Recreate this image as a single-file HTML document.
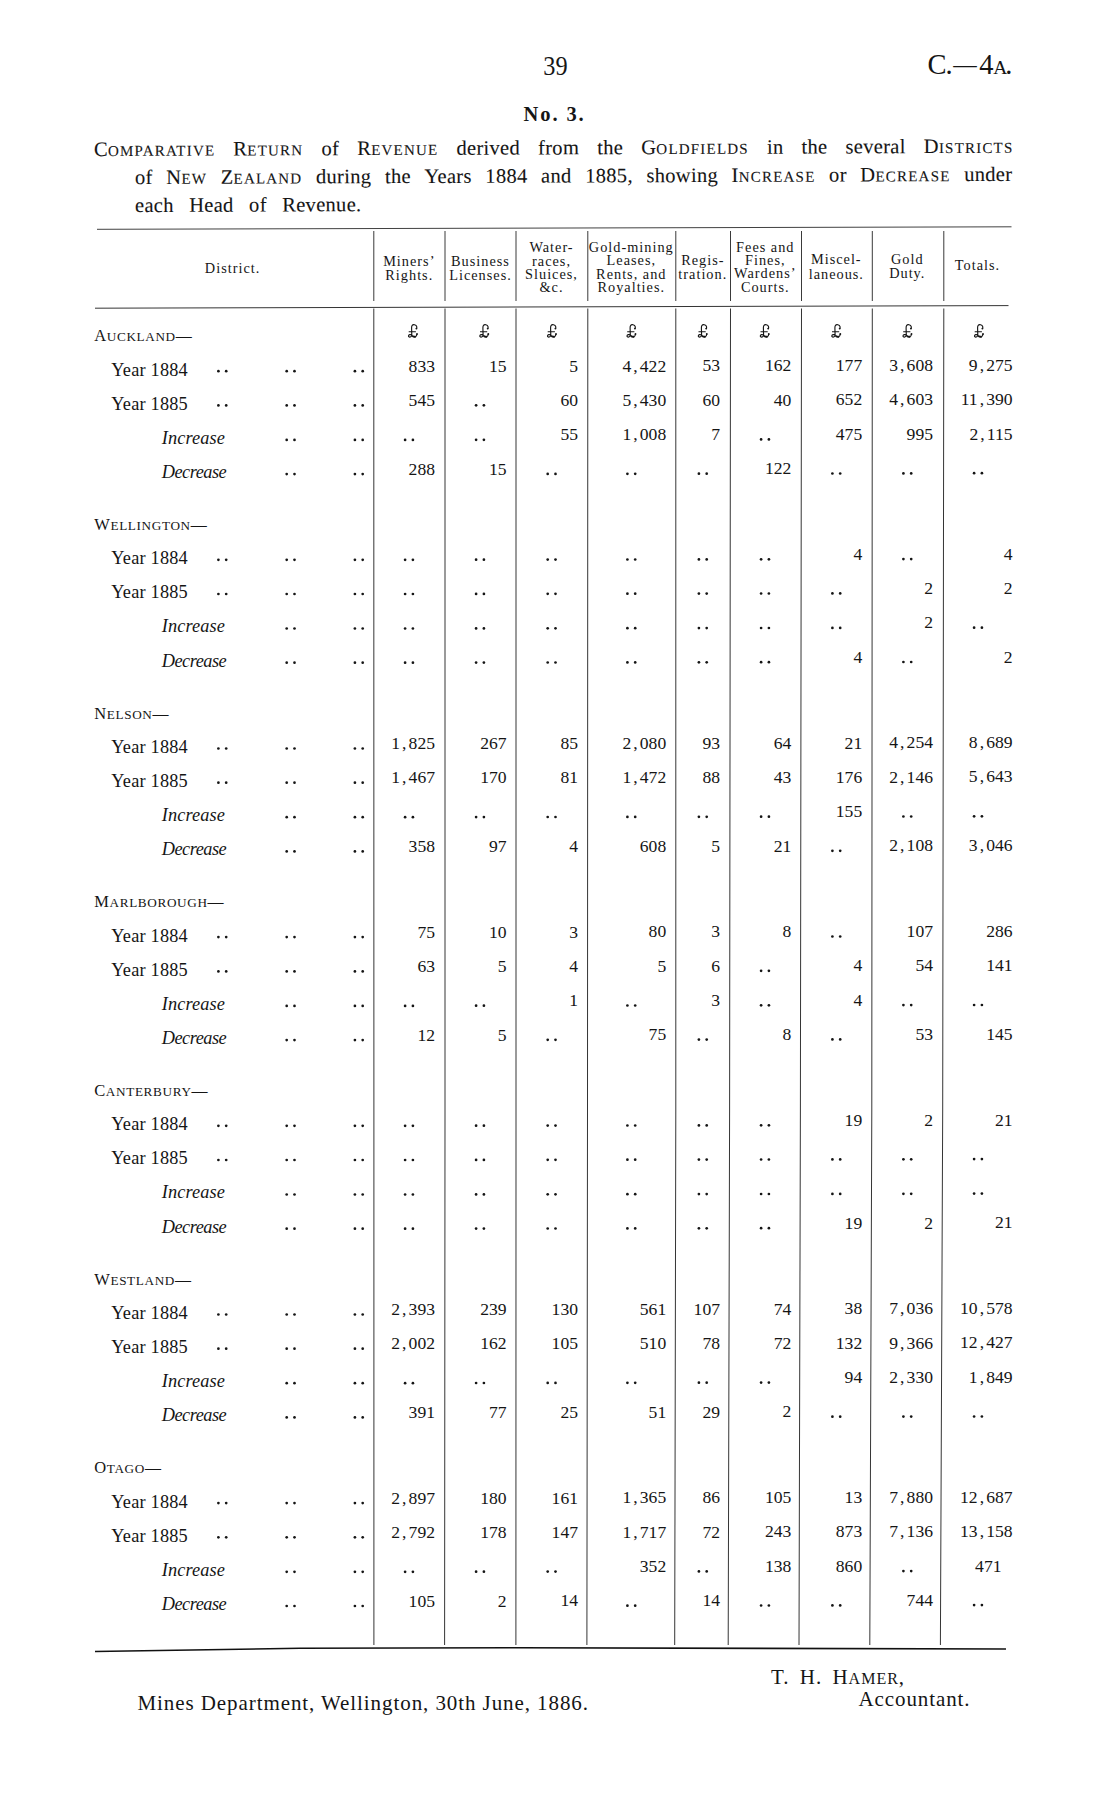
<!DOCTYPE html>
<html><head><meta charset="utf-8"><title>C.-4A p39</title>
<style>
html,body{margin:0;padding:0;background:#fff;}
body{width:1114px;height:1811px;position:relative;overflow:hidden;font-family:"Liberation Serif",serif;color:#151515;}
svg{position:absolute;left:0;top:0;}
svg text{font-family:"Liberation Serif",serif;fill:#151515;stroke:#151515;stroke-width:0px;}
.n{font-size:17.6px;}
.h{letter-spacing:1.0px;}
.lab{letter-spacing:0.2px;}
.it{font-style:italic;letter-spacing:0.1px;}
.dec{letter-spacing:-0.5px;}
.sc{font-size:16px;letter-spacing:0.65px;}
.b{font-weight:bold;letter-spacing:1.9px;stroke-width:0px;}
.ft{letter-spacing:0.92px;}
.jl{position:absolute;display:flex;justify-content:space-between;align-items:baseline;font-size:20.5px;line-height:23.4px;height:23.4px;white-space:nowrap;letter-spacing:0.3px;transform:rotate(-0.2deg);transform-origin:0 18px;-webkit-text-stroke:0.1px #151515;}
.tl{position:absolute;font-size:19.5px;line-height:23.4px;white-space:nowrap;letter-spacing:0.7px;word-spacing:6px;}
</style></head><body>
<div class="jl" style="left:94px;width:919.6px;top:137.6px"><span><span style="font-size:20.5px">C</span><span style="font-size:15.0px;letter-spacing:1.2px">OMPARATIVE</span></span><span><span style="font-size:20.5px">R</span><span style="font-size:15.0px;letter-spacing:1.2px">ETURN</span></span><span>of</span><span><span style="font-size:20.5px">R</span><span style="font-size:15.0px;letter-spacing:1.2px">EVENUE</span></span><span>derived</span><span>from</span><span>the</span><span><span style="font-size:20.5px">G</span><span style="font-size:15.0px;letter-spacing:1.2px">OLDFIELDS</span></span><span>in</span><span>the</span><span>several</span><span><span style="font-size:20.5px">D</span><span style="font-size:15.0px;letter-spacing:1.2px">ISTRICTS</span></span></div><div class="jl" style="left:135px;width:877.5px;top:165.8px"><span>of</span><span><span style="font-size:20.5px">N</span><span style="font-size:15.0px;letter-spacing:1.2px">EW</span></span><span><span style="font-size:20.5px">Z</span><span style="font-size:15.0px;letter-spacing:1.2px">EALAND</span></span><span>during</span><span>the</span><span>Years</span><span>1884</span><span>and</span><span>1885,</span><span>showing</span><span><span style="font-size:20.5px">I</span><span style="font-size:15.0px;letter-spacing:1.2px">NCREASE</span></span><span>or</span><span><span style="font-size:20.5px">D</span><span style="font-size:15.0px;letter-spacing:1.2px">ECREASE</span></span><span>under</span></div><div class="jl" style="left:135px;width:226.5px;top:193.8px"><span>each</span><span>Head</span><span>of</span><span>Revenue.</span></div>
<svg width="1114" height="1811" viewBox="0 0 1114 1811">
<g fill="#151515">
<line x1="97" y1="229.3" x2="1011.5" y2="226.8" stroke="#111" stroke-width="1.0" stroke-opacity="0.8"/>
<line x1="95" y1="308.2" x2="1008.5" y2="305.6" stroke="#111" stroke-width="1.0" stroke-opacity="0.85"/>
<polyline points="95,1651.5 300,1648.3 515,1647.8 1006,1649" fill="none" stroke="#111" stroke-width="1.6"/>
<polyline points="373.8,231 373.8,301" fill="none" stroke="#3a3a3a" stroke-width="1.0"/>
<polyline points="373.8,308.5 373.9,1110 373.9,1645" fill="none" stroke="#2a2a2a" stroke-width="0.95"/>
<polyline points="445.0,231 445.0,301" fill="none" stroke="#3a3a3a" stroke-width="1.0"/>
<polyline points="445.0,308.5 445.0,1110 444.6,1645" fill="none" stroke="#2a2a2a" stroke-width="0.95"/>
<polyline points="516.0,231 516.0,301" fill="none" stroke="#3a3a3a" stroke-width="1.0"/>
<polyline points="516.0,308.5 516.0,1110 515.9,1645" fill="none" stroke="#2a2a2a" stroke-width="0.95"/>
<polyline points="587.8,231 587.8,301" fill="none" stroke="#3a3a3a" stroke-width="1.0"/>
<polyline points="587.8,308.5 587.5,1110 586.9,1645" fill="none" stroke="#2a2a2a" stroke-width="0.95"/>
<polyline points="675.8,231 675.8,301" fill="none" stroke="#3a3a3a" stroke-width="1.0"/>
<polyline points="675.8,308.5 675.8,1110 674.7,1645" fill="none" stroke="#2a2a2a" stroke-width="0.95"/>
<polyline points="730.5,231 730.5,301" fill="none" stroke="#3a3a3a" stroke-width="1.0"/>
<polyline points="730.5,308.5 729.6,1110 728.2,1645" fill="none" stroke="#2a2a2a" stroke-width="0.95"/>
<polyline points="801.5,231 801.5,301" fill="none" stroke="#3a3a3a" stroke-width="1.0"/>
<polyline points="801.5,308.5 800.4,1110 799.0,1645" fill="none" stroke="#2a2a2a" stroke-width="0.95"/>
<polyline points="872.3,231 872.3,301" fill="none" stroke="#3a3a3a" stroke-width="1.0"/>
<polyline points="872.3,308.5 871.8,1110 869.8,1645" fill="none" stroke="#2a2a2a" stroke-width="0.95"/>
<polyline points="943.8,231 943.8,301" fill="none" stroke="#3a3a3a" stroke-width="1.0"/>
<polyline points="943.8,308.5 942.7,1110 940.4,1645" fill="none" stroke="#2a2a2a" stroke-width="0.95"/>
<text x="232.6" y="272.9" text-anchor="middle" font-size="14.3" class="h">District.</text>
<text x="409.3" y="265.7" text-anchor="middle" font-size="14.3" class="h">Miners’</text>
<text x="409.3" y="280.0" text-anchor="middle" font-size="14.3" class="h">Rights.</text>
<text x="480.5" y="265.5" text-anchor="middle" font-size="14.3" class="h">Business</text>
<text x="480.5" y="279.8" text-anchor="middle" font-size="14.3" class="h">Licenses.</text>
<text x="551.5" y="252.3" text-anchor="middle" font-size="14.3" class="h">Water-</text>
<text x="551.5" y="265.7" text-anchor="middle" font-size="14.3" class="h">races,</text>
<text x="551.5" y="278.8" text-anchor="middle" font-size="14.3" class="h">Sluices,</text>
<text x="551.5" y="292.2" text-anchor="middle" font-size="14.3" class="h">&amp;c.</text>
<text x="631.3" y="252.0" text-anchor="middle" font-size="14.3" class="h">Gold-mining</text>
<text x="631.3" y="265.4" text-anchor="middle" font-size="14.3" class="h">Leases,</text>
<text x="631.3" y="278.5" text-anchor="middle" font-size="14.3" class="h">Rents, and</text>
<text x="631.3" y="291.9" text-anchor="middle" font-size="14.3" class="h">Royalties.</text>
<text x="702.8" y="264.7" text-anchor="middle" font-size="14.3" class="h">Regis-</text>
<text x="702.8" y="279.0" text-anchor="middle" font-size="14.3" class="h">tration.</text>
<text x="765.3" y="251.6" text-anchor="middle" font-size="14.3" class="h">Fees and</text>
<text x="765.3" y="265.0" text-anchor="middle" font-size="14.3" class="h">Fines,</text>
<text x="765.3" y="278.1" text-anchor="middle" font-size="14.3" class="h">Wardens’</text>
<text x="765.3" y="291.5" text-anchor="middle" font-size="14.3" class="h">Courts.</text>
<text x="836.3" y="264.2" text-anchor="middle" font-size="14.3" class="h">Miscel-</text>
<text x="836.3" y="278.5" text-anchor="middle" font-size="14.3" class="h">laneous.</text>
<text x="907.3" y="264.0" text-anchor="middle" font-size="14.3" class="h">Gold</text>
<text x="907.3" y="278.3" text-anchor="middle" font-size="14.3" class="h">Duty.</text>
<text x="977.5" y="269.9" text-anchor="middle" font-size="14.3" class="h">Totals.</text>
<text x="94.2" y="341.4" class="sc"><tspan font-size="16.5">A</tspan><tspan font-size="13.2">UCKLAND</tspan>—</text>
<g transform="translate(403.5,320.3)"><path d="M12.7,8.6 C13.8,7.6 13.6,5.0 11.0,4.4 C8.6,3.9 8.0,6.0 8.1,8.0 L8.3,14.8 C7.0,14.0 5.0,14.2 5.0,15.7 C5.0,17.2 7.5,17.2 8.4,15.2 C9.5,16.0 10.5,16.8 11.8,16.6 C13.0,16.4 13.4,15.2 13.4,13.8 M5.2,11.5 L12.4,11.5" fill="none" stroke="#151515" stroke-width="1.15"/><path d="M8.8,15.6 C9.8,16.3 10.7,16.7 12.2,16.3" fill="none" stroke="#151515" stroke-width="1.8"/><circle cx="12.9" cy="8.3" r="0.95"/><circle cx="13.5" cy="13.7" r="0.95"/></g>
<g transform="translate(474.8,320.3)"><path d="M12.7,8.6 C13.8,7.6 13.6,5.0 11.0,4.4 C8.6,3.9 8.0,6.0 8.1,8.0 L8.3,14.8 C7.0,14.0 5.0,14.2 5.0,15.7 C5.0,17.2 7.5,17.2 8.4,15.2 C9.5,16.0 10.5,16.8 11.8,16.6 C13.0,16.4 13.4,15.2 13.4,13.8 M5.2,11.5 L12.4,11.5" fill="none" stroke="#151515" stroke-width="1.15"/><path d="M8.8,15.6 C9.8,16.3 10.7,16.7 12.2,16.3" fill="none" stroke="#151515" stroke-width="1.8"/><circle cx="12.9" cy="8.3" r="0.95"/><circle cx="13.5" cy="13.7" r="0.95"/></g>
<g transform="translate(542.5,320.3)"><path d="M12.7,8.6 C13.8,7.6 13.6,5.0 11.0,4.4 C8.6,3.9 8.0,6.0 8.1,8.0 L8.3,14.8 C7.0,14.0 5.0,14.2 5.0,15.7 C5.0,17.2 7.5,17.2 8.4,15.2 C9.5,16.0 10.5,16.8 11.8,16.6 C13.0,16.4 13.4,15.2 13.4,13.8 M5.2,11.5 L12.4,11.5" fill="none" stroke="#151515" stroke-width="1.15"/><path d="M8.8,15.6 C9.8,16.3 10.7,16.7 12.2,16.3" fill="none" stroke="#151515" stroke-width="1.8"/><circle cx="12.9" cy="8.3" r="0.95"/><circle cx="13.5" cy="13.7" r="0.95"/></g>
<g transform="translate(622.0,320.3)"><path d="M12.7,8.6 C13.8,7.6 13.6,5.0 11.0,4.4 C8.6,3.9 8.0,6.0 8.1,8.0 L8.3,14.8 C7.0,14.0 5.0,14.2 5.0,15.7 C5.0,17.2 7.5,17.2 8.4,15.2 C9.5,16.0 10.5,16.8 11.8,16.6 C13.0,16.4 13.4,15.2 13.4,13.8 M5.2,11.5 L12.4,11.5" fill="none" stroke="#151515" stroke-width="1.15"/><path d="M8.8,15.6 C9.8,16.3 10.7,16.7 12.2,16.3" fill="none" stroke="#151515" stroke-width="1.8"/><circle cx="12.9" cy="8.3" r="0.95"/><circle cx="13.5" cy="13.7" r="0.95"/></g>
<g transform="translate(693.3,320.3)"><path d="M12.7,8.6 C13.8,7.6 13.6,5.0 11.0,4.4 C8.6,3.9 8.0,6.0 8.1,8.0 L8.3,14.8 C7.0,14.0 5.0,14.2 5.0,15.7 C5.0,17.2 7.5,17.2 8.4,15.2 C9.5,16.0 10.5,16.8 11.8,16.6 C13.0,16.4 13.4,15.2 13.4,13.8 M5.2,11.5 L12.4,11.5" fill="none" stroke="#151515" stroke-width="1.15"/><path d="M8.8,15.6 C9.8,16.3 10.7,16.7 12.2,16.3" fill="none" stroke="#151515" stroke-width="1.8"/><circle cx="12.9" cy="8.3" r="0.95"/><circle cx="13.5" cy="13.7" r="0.95"/></g>
<g transform="translate(755.3,320.3)"><path d="M12.7,8.6 C13.8,7.6 13.6,5.0 11.0,4.4 C8.6,3.9 8.0,6.0 8.1,8.0 L8.3,14.8 C7.0,14.0 5.0,14.2 5.0,15.7 C5.0,17.2 7.5,17.2 8.4,15.2 C9.5,16.0 10.5,16.8 11.8,16.6 C13.0,16.4 13.4,15.2 13.4,13.8 M5.2,11.5 L12.4,11.5" fill="none" stroke="#151515" stroke-width="1.15"/><path d="M8.8,15.6 C9.8,16.3 10.7,16.7 12.2,16.3" fill="none" stroke="#151515" stroke-width="1.8"/><circle cx="12.9" cy="8.3" r="0.95"/><circle cx="13.5" cy="13.7" r="0.95"/></g>
<g transform="translate(826.8,320.3)"><path d="M12.7,8.6 C13.8,7.6 13.6,5.0 11.0,4.4 C8.6,3.9 8.0,6.0 8.1,8.0 L8.3,14.8 C7.0,14.0 5.0,14.2 5.0,15.7 C5.0,17.2 7.5,17.2 8.4,15.2 C9.5,16.0 10.5,16.8 11.8,16.6 C13.0,16.4 13.4,15.2 13.4,13.8 M5.2,11.5 L12.4,11.5" fill="none" stroke="#151515" stroke-width="1.15"/><path d="M8.8,15.6 C9.8,16.3 10.7,16.7 12.2,16.3" fill="none" stroke="#151515" stroke-width="1.8"/><circle cx="12.9" cy="8.3" r="0.95"/><circle cx="13.5" cy="13.7" r="0.95"/></g>
<g transform="translate(898.0,320.3)"><path d="M12.7,8.6 C13.8,7.6 13.6,5.0 11.0,4.4 C8.6,3.9 8.0,6.0 8.1,8.0 L8.3,14.8 C7.0,14.0 5.0,14.2 5.0,15.7 C5.0,17.2 7.5,17.2 8.4,15.2 C9.5,16.0 10.5,16.8 11.8,16.6 C13.0,16.4 13.4,15.2 13.4,13.8 M5.2,11.5 L12.4,11.5" fill="none" stroke="#151515" stroke-width="1.15"/><path d="M8.8,15.6 C9.8,16.3 10.7,16.7 12.2,16.3" fill="none" stroke="#151515" stroke-width="1.8"/><circle cx="12.9" cy="8.3" r="0.95"/><circle cx="13.5" cy="13.7" r="0.95"/></g>
<g transform="translate(969.5,320.3)"><path d="M12.7,8.6 C13.8,7.6 13.6,5.0 11.0,4.4 C8.6,3.9 8.0,6.0 8.1,8.0 L8.3,14.8 C7.0,14.0 5.0,14.2 5.0,15.7 C5.0,17.2 7.5,17.2 8.4,15.2 C9.5,16.0 10.5,16.8 11.8,16.6 C13.0,16.4 13.4,15.2 13.4,13.8 M5.2,11.5 L12.4,11.5" fill="none" stroke="#151515" stroke-width="1.15"/><path d="M8.8,15.6 C9.8,16.3 10.7,16.7 12.2,16.3" fill="none" stroke="#151515" stroke-width="1.8"/><circle cx="12.9" cy="8.3" r="0.95"/><circle cx="13.5" cy="13.7" r="0.95"/></g>
<text x="111.3" y="375.7" font-size="18.3" class="lab">Year 1884</text>
<circle cx="218.4" cy="371.2" r="1.35"/><circle cx="226.2" cy="371.2" r="1.35"/>
<circle cx="286.7" cy="371.2" r="1.35"/><circle cx="294.5" cy="371.2" r="1.35"/>
<circle cx="354.9" cy="371.2" r="1.35"/><circle cx="362.7" cy="371.2" r="1.35"/>
<text x="435.0" y="371.8" text-anchor="end" class="n">833</text>
<text x="506.6" y="371.7" text-anchor="end" class="n">15</text>
<text x="578.0" y="371.6" text-anchor="end" class="n">5</text>
<text x="666.2" y="371.5" text-anchor="end" class="n">4<tspan dx="2.1">,</tspan><tspan dx="2.1">422</tspan></text>
<text x="720.0" y="371.4" text-anchor="end" class="n">53</text>
<text x="791.4" y="371.3" text-anchor="end" class="n">162</text>
<text x="862.2" y="371.2" text-anchor="end" class="n">177</text>
<text x="933.0" y="371.1" text-anchor="end" class="n">3<tspan dx="2.1">,</tspan><tspan dx="2.1">608</tspan></text>
<text x="1012.6" y="370.9" text-anchor="end" class="n">9<tspan dx="2.1">,</tspan><tspan dx="2.1">275</tspan></text>
<text x="111.3" y="409.6" font-size="18.3" class="lab">Year 1885</text>
<circle cx="218.4" cy="405.4" r="1.35"/><circle cx="226.2" cy="405.4" r="1.35"/>
<circle cx="286.7" cy="405.4" r="1.35"/><circle cx="294.5" cy="405.4" r="1.35"/>
<circle cx="354.9" cy="405.4" r="1.35"/><circle cx="362.7" cy="405.4" r="1.35"/>
<text x="435.0" y="406.0" text-anchor="end" class="n">545</text>
<circle cx="476.1" cy="405.3" r="1.35"/><circle cx="483.9" cy="405.3" r="1.35"/>
<text x="578.0" y="405.8" text-anchor="end" class="n">60</text>
<text x="666.2" y="405.7" text-anchor="end" class="n">5<tspan dx="2.1">,</tspan><tspan dx="2.1">430</tspan></text>
<text x="720.0" y="405.6" text-anchor="end" class="n">60</text>
<text x="791.4" y="405.5" text-anchor="end" class="n">40</text>
<text x="862.2" y="405.4" text-anchor="end" class="n">652</text>
<text x="933.0" y="405.3" text-anchor="end" class="n">4<tspan dx="2.1">,</tspan><tspan dx="2.1">603</tspan></text>
<text x="1012.6" y="405.1" text-anchor="end" class="n">11<tspan dx="2.1">,</tspan><tspan dx="2.1">390</tspan></text>
<text x="161.8" y="443.6" font-size="18.3" class="it">Increase</text>
<circle cx="286.7" cy="439.9" r="1.35"/><circle cx="294.5" cy="439.9" r="1.35"/>
<circle cx="354.9" cy="439.9" r="1.35"/><circle cx="362.7" cy="439.9" r="1.35"/>
<circle cx="405.1" cy="439.9" r="1.35"/><circle cx="412.9" cy="439.9" r="1.35"/>
<circle cx="476.1" cy="439.8" r="1.35"/><circle cx="483.9" cy="439.8" r="1.35"/>
<text x="578.0" y="440.3" text-anchor="end" class="n">55</text>
<text x="666.2" y="440.2" text-anchor="end" class="n">1<tspan dx="2.1">,</tspan><tspan dx="2.1">008</tspan></text>
<text x="720.0" y="440.1" text-anchor="end" class="n">7</text>
<circle cx="761.1" cy="439.4" r="1.35"/><circle cx="768.9" cy="439.4" r="1.35"/>
<text x="862.2" y="439.9" text-anchor="end" class="n">475</text>
<text x="933.0" y="439.8" text-anchor="end" class="n">995</text>
<text x="1012.6" y="439.6" text-anchor="end" class="n">2<tspan dx="2.1">,</tspan><tspan dx="2.1">115</tspan></text>
<text x="161.8" y="477.9" font-size="18.3" class="it dec">Decrease</text>
<circle cx="286.7" cy="474.1" r="1.35"/><circle cx="294.5" cy="474.1" r="1.35"/>
<circle cx="354.9" cy="474.1" r="1.35"/><circle cx="362.7" cy="474.1" r="1.35"/>
<text x="435.0" y="474.7" text-anchor="end" class="n">288</text>
<text x="506.6" y="474.6" text-anchor="end" class="n">15</text>
<circle cx="547.7" cy="473.9" r="1.35"/><circle cx="555.5" cy="473.9" r="1.35"/>
<circle cx="627.4" cy="473.8" r="1.35"/><circle cx="635.2" cy="473.8" r="1.35"/>
<circle cx="698.9" cy="473.7" r="1.35"/><circle cx="706.7" cy="473.7" r="1.35"/>
<text x="791.4" y="474.2" text-anchor="end" class="n">122</text>
<circle cx="832.4" cy="473.5" r="1.35"/><circle cx="840.2" cy="473.5" r="1.35"/>
<circle cx="903.4" cy="473.4" r="1.35"/><circle cx="911.2" cy="473.4" r="1.35"/>
<circle cx="974.1" cy="473.2" r="1.35"/><circle cx="981.9" cy="473.2" r="1.35"/>
<text x="94.2" y="530.0" class="sc"><tspan font-size="16.5">W</tspan><tspan font-size="13.2">ELLINGTON</tspan>—</text>
<text x="111.3" y="564.3" font-size="18.3" class="lab">Year 1884</text>
<circle cx="218.4" cy="559.8" r="1.35"/><circle cx="226.2" cy="559.8" r="1.35"/>
<circle cx="286.7" cy="559.8" r="1.35"/><circle cx="294.5" cy="559.8" r="1.35"/>
<circle cx="354.9" cy="559.8" r="1.35"/><circle cx="362.7" cy="559.8" r="1.35"/>
<circle cx="405.1" cy="559.8" r="1.35"/><circle cx="412.9" cy="559.8" r="1.35"/>
<circle cx="476.1" cy="559.7" r="1.35"/><circle cx="483.9" cy="559.7" r="1.35"/>
<circle cx="547.7" cy="559.6" r="1.35"/><circle cx="555.5" cy="559.6" r="1.35"/>
<circle cx="627.4" cy="559.5" r="1.35"/><circle cx="635.2" cy="559.5" r="1.35"/>
<circle cx="698.9" cy="559.4" r="1.35"/><circle cx="706.7" cy="559.4" r="1.35"/>
<circle cx="761.1" cy="559.3" r="1.35"/><circle cx="768.9" cy="559.3" r="1.35"/>
<text x="862.2" y="559.8" text-anchor="end" class="n">4</text>
<circle cx="903.4" cy="559.1" r="1.35"/><circle cx="911.2" cy="559.1" r="1.35"/>
<text x="1012.6" y="559.6" text-anchor="end" class="n">4</text>
<text x="111.3" y="598.2" font-size="18.3" class="lab">Year 1885</text>
<circle cx="218.4" cy="594.0" r="1.35"/><circle cx="226.2" cy="594.0" r="1.35"/>
<circle cx="286.7" cy="594.0" r="1.35"/><circle cx="294.5" cy="594.0" r="1.35"/>
<circle cx="354.9" cy="594.0" r="1.35"/><circle cx="362.7" cy="594.0" r="1.35"/>
<circle cx="405.1" cy="594.0" r="1.35"/><circle cx="412.9" cy="594.0" r="1.35"/>
<circle cx="476.1" cy="593.9" r="1.35"/><circle cx="483.9" cy="593.9" r="1.35"/>
<circle cx="547.7" cy="593.8" r="1.35"/><circle cx="555.5" cy="593.8" r="1.35"/>
<circle cx="627.4" cy="593.7" r="1.35"/><circle cx="635.2" cy="593.7" r="1.35"/>
<circle cx="698.9" cy="593.6" r="1.35"/><circle cx="706.7" cy="593.6" r="1.35"/>
<circle cx="761.1" cy="593.5" r="1.35"/><circle cx="768.9" cy="593.5" r="1.35"/>
<circle cx="832.4" cy="593.4" r="1.35"/><circle cx="840.2" cy="593.4" r="1.35"/>
<text x="933.0" y="593.9" text-anchor="end" class="n">2</text>
<text x="1012.6" y="593.8" text-anchor="end" class="n">2</text>
<text x="161.8" y="632.2" font-size="18.3" class="it">Increase</text>
<circle cx="286.7" cy="628.5" r="1.35"/><circle cx="294.5" cy="628.5" r="1.35"/>
<circle cx="354.9" cy="628.5" r="1.35"/><circle cx="362.7" cy="628.5" r="1.35"/>
<circle cx="405.1" cy="628.5" r="1.35"/><circle cx="412.9" cy="628.5" r="1.35"/>
<circle cx="476.1" cy="628.4" r="1.35"/><circle cx="483.9" cy="628.4" r="1.35"/>
<circle cx="547.7" cy="628.3" r="1.35"/><circle cx="555.5" cy="628.3" r="1.35"/>
<circle cx="627.4" cy="628.2" r="1.35"/><circle cx="635.2" cy="628.2" r="1.35"/>
<circle cx="698.9" cy="628.1" r="1.35"/><circle cx="706.7" cy="628.1" r="1.35"/>
<circle cx="761.1" cy="628.0" r="1.35"/><circle cx="768.9" cy="628.0" r="1.35"/>
<circle cx="832.4" cy="627.9" r="1.35"/><circle cx="840.2" cy="627.9" r="1.35"/>
<text x="933.0" y="628.4" text-anchor="end" class="n">2</text>
<circle cx="974.1" cy="627.7" r="1.35"/><circle cx="981.9" cy="627.7" r="1.35"/>
<text x="161.8" y="666.5" font-size="18.3" class="it dec">Decrease</text>
<circle cx="286.7" cy="662.7" r="1.35"/><circle cx="294.5" cy="662.7" r="1.35"/>
<circle cx="354.9" cy="662.7" r="1.35"/><circle cx="362.7" cy="662.7" r="1.35"/>
<circle cx="405.1" cy="662.7" r="1.35"/><circle cx="412.9" cy="662.7" r="1.35"/>
<circle cx="476.1" cy="662.6" r="1.35"/><circle cx="483.9" cy="662.6" r="1.35"/>
<circle cx="547.7" cy="662.5" r="1.35"/><circle cx="555.5" cy="662.5" r="1.35"/>
<circle cx="627.4" cy="662.4" r="1.35"/><circle cx="635.2" cy="662.4" r="1.35"/>
<circle cx="698.9" cy="662.3" r="1.35"/><circle cx="706.7" cy="662.3" r="1.35"/>
<circle cx="761.1" cy="662.2" r="1.35"/><circle cx="768.9" cy="662.2" r="1.35"/>
<text x="862.2" y="662.7" text-anchor="end" class="n">4</text>
<circle cx="903.4" cy="662.0" r="1.35"/><circle cx="911.2" cy="662.0" r="1.35"/>
<text x="1012.6" y="662.5" text-anchor="end" class="n">2</text>
<text x="94.2" y="718.7" class="sc"><tspan font-size="16.5">N</tspan><tspan font-size="13.2">ELSON</tspan>—</text>
<text x="111.3" y="753.0" font-size="18.3" class="lab">Year 1884</text>
<circle cx="218.4" cy="748.5" r="1.35"/><circle cx="226.2" cy="748.5" r="1.35"/>
<circle cx="286.7" cy="748.5" r="1.35"/><circle cx="294.5" cy="748.5" r="1.35"/>
<circle cx="354.9" cy="748.5" r="1.35"/><circle cx="362.7" cy="748.5" r="1.35"/>
<text x="435.0" y="749.1" text-anchor="end" class="n">1<tspan dx="2.1">,</tspan><tspan dx="2.1">825</tspan></text>
<text x="506.6" y="749.0" text-anchor="end" class="n">267</text>
<text x="578.0" y="748.9" text-anchor="end" class="n">85</text>
<text x="666.2" y="748.8" text-anchor="end" class="n">2<tspan dx="2.1">,</tspan><tspan dx="2.1">080</tspan></text>
<text x="720.0" y="748.7" text-anchor="end" class="n">93</text>
<text x="791.4" y="748.6" text-anchor="end" class="n">64</text>
<text x="862.2" y="748.5" text-anchor="end" class="n">21</text>
<text x="933.0" y="748.4" text-anchor="end" class="n">4<tspan dx="2.1">,</tspan><tspan dx="2.1">254</tspan></text>
<text x="1012.6" y="748.2" text-anchor="end" class="n">8<tspan dx="2.1">,</tspan><tspan dx="2.1">689</tspan></text>
<text x="111.3" y="786.9" font-size="18.3" class="lab">Year 1885</text>
<circle cx="218.4" cy="782.7" r="1.35"/><circle cx="226.2" cy="782.7" r="1.35"/>
<circle cx="286.7" cy="782.7" r="1.35"/><circle cx="294.5" cy="782.7" r="1.35"/>
<circle cx="354.9" cy="782.7" r="1.35"/><circle cx="362.7" cy="782.7" r="1.35"/>
<text x="435.0" y="783.3" text-anchor="end" class="n">1<tspan dx="2.1">,</tspan><tspan dx="2.1">467</tspan></text>
<text x="506.6" y="783.2" text-anchor="end" class="n">170</text>
<text x="578.0" y="783.1" text-anchor="end" class="n">81</text>
<text x="666.2" y="783.0" text-anchor="end" class="n">1<tspan dx="2.1">,</tspan><tspan dx="2.1">472</tspan></text>
<text x="720.0" y="782.9" text-anchor="end" class="n">88</text>
<text x="791.4" y="782.8" text-anchor="end" class="n">43</text>
<text x="862.2" y="782.7" text-anchor="end" class="n">176</text>
<text x="933.0" y="782.6" text-anchor="end" class="n">2<tspan dx="2.1">,</tspan><tspan dx="2.1">146</tspan></text>
<text x="1012.6" y="782.4" text-anchor="end" class="n">5<tspan dx="2.1">,</tspan><tspan dx="2.1">643</tspan></text>
<text x="161.8" y="820.9" font-size="18.3" class="it">Increase</text>
<circle cx="286.7" cy="817.2" r="1.35"/><circle cx="294.5" cy="817.2" r="1.35"/>
<circle cx="354.9" cy="817.2" r="1.35"/><circle cx="362.7" cy="817.2" r="1.35"/>
<circle cx="405.1" cy="817.2" r="1.35"/><circle cx="412.9" cy="817.2" r="1.35"/>
<circle cx="476.1" cy="817.1" r="1.35"/><circle cx="483.9" cy="817.1" r="1.35"/>
<circle cx="547.7" cy="817.0" r="1.35"/><circle cx="555.5" cy="817.0" r="1.35"/>
<circle cx="627.4" cy="816.9" r="1.35"/><circle cx="635.2" cy="816.9" r="1.35"/>
<circle cx="698.9" cy="816.8" r="1.35"/><circle cx="706.7" cy="816.8" r="1.35"/>
<circle cx="761.1" cy="816.7" r="1.35"/><circle cx="768.9" cy="816.7" r="1.35"/>
<text x="862.2" y="817.2" text-anchor="end" class="n">155</text>
<circle cx="903.4" cy="816.5" r="1.35"/><circle cx="911.2" cy="816.5" r="1.35"/>
<circle cx="974.1" cy="816.3" r="1.35"/><circle cx="981.9" cy="816.3" r="1.35"/>
<text x="161.8" y="855.2" font-size="18.3" class="it dec">Decrease</text>
<circle cx="286.7" cy="851.4" r="1.35"/><circle cx="294.5" cy="851.4" r="1.35"/>
<circle cx="354.9" cy="851.4" r="1.35"/><circle cx="362.7" cy="851.4" r="1.35"/>
<text x="435.0" y="852.0" text-anchor="end" class="n">358</text>
<text x="506.6" y="851.9" text-anchor="end" class="n">97</text>
<text x="578.0" y="851.8" text-anchor="end" class="n">4</text>
<text x="666.2" y="851.7" text-anchor="end" class="n">608</text>
<text x="720.0" y="851.6" text-anchor="end" class="n">5</text>
<text x="791.4" y="851.5" text-anchor="end" class="n">21</text>
<circle cx="832.4" cy="850.8" r="1.35"/><circle cx="840.2" cy="850.8" r="1.35"/>
<text x="933.0" y="851.3" text-anchor="end" class="n">2<tspan dx="2.1">,</tspan><tspan dx="2.1">108</tspan></text>
<text x="1012.6" y="851.1" text-anchor="end" class="n">3<tspan dx="2.1">,</tspan><tspan dx="2.1">046</tspan></text>
<text x="94.2" y="907.4" class="sc"><tspan font-size="16.5">M</tspan><tspan font-size="13.2">ARLBOROUGH</tspan>—</text>
<text x="111.3" y="941.6" font-size="18.3" class="lab">Year 1884</text>
<circle cx="218.4" cy="937.1" r="1.35"/><circle cx="226.2" cy="937.1" r="1.35"/>
<circle cx="286.7" cy="937.1" r="1.35"/><circle cx="294.5" cy="937.1" r="1.35"/>
<circle cx="354.9" cy="937.1" r="1.35"/><circle cx="362.7" cy="937.1" r="1.35"/>
<text x="435.0" y="937.8" text-anchor="end" class="n">75</text>
<text x="506.6" y="937.6" text-anchor="end" class="n">10</text>
<text x="578.0" y="937.5" text-anchor="end" class="n">3</text>
<text x="666.2" y="937.4" text-anchor="end" class="n">80</text>
<text x="720.0" y="937.3" text-anchor="end" class="n">3</text>
<text x="791.4" y="937.2" text-anchor="end" class="n">8</text>
<circle cx="832.4" cy="936.5" r="1.35"/><circle cx="840.2" cy="936.5" r="1.35"/>
<text x="933.0" y="937.0" text-anchor="end" class="n">107</text>
<text x="1012.6" y="936.9" text-anchor="end" class="n">286</text>
<text x="111.3" y="975.6" font-size="18.3" class="lab">Year 1885</text>
<circle cx="218.4" cy="971.4" r="1.35"/><circle cx="226.2" cy="971.4" r="1.35"/>
<circle cx="286.7" cy="971.4" r="1.35"/><circle cx="294.5" cy="971.4" r="1.35"/>
<circle cx="354.9" cy="971.4" r="1.35"/><circle cx="362.7" cy="971.4" r="1.35"/>
<text x="435.0" y="972.0" text-anchor="end" class="n">63</text>
<text x="506.6" y="971.8" text-anchor="end" class="n">5</text>
<text x="578.0" y="971.7" text-anchor="end" class="n">4</text>
<text x="666.2" y="971.6" text-anchor="end" class="n">5</text>
<text x="720.0" y="971.5" text-anchor="end" class="n">6</text>
<circle cx="761.1" cy="970.8" r="1.35"/><circle cx="768.9" cy="970.8" r="1.35"/>
<text x="862.2" y="971.3" text-anchor="end" class="n">4</text>
<text x="933.0" y="971.2" text-anchor="end" class="n">54</text>
<text x="1012.6" y="971.1" text-anchor="end" class="n">141</text>
<text x="161.8" y="1009.6" font-size="18.3" class="it">Increase</text>
<circle cx="286.7" cy="1005.9" r="1.35"/><circle cx="294.5" cy="1005.9" r="1.35"/>
<circle cx="354.9" cy="1005.9" r="1.35"/><circle cx="362.7" cy="1005.9" r="1.35"/>
<circle cx="405.1" cy="1005.9" r="1.35"/><circle cx="412.9" cy="1005.9" r="1.35"/>
<circle cx="476.1" cy="1005.7" r="1.35"/><circle cx="483.9" cy="1005.7" r="1.35"/>
<text x="578.0" y="1006.2" text-anchor="end" class="n">1</text>
<circle cx="627.4" cy="1005.5" r="1.35"/><circle cx="635.2" cy="1005.5" r="1.35"/>
<text x="720.0" y="1006.0" text-anchor="end" class="n">3</text>
<circle cx="761.1" cy="1005.3" r="1.35"/><circle cx="768.9" cy="1005.3" r="1.35"/>
<text x="862.2" y="1005.8" text-anchor="end" class="n">4</text>
<circle cx="903.4" cy="1005.1" r="1.35"/><circle cx="911.2" cy="1005.1" r="1.35"/>
<circle cx="974.1" cy="1005.0" r="1.35"/><circle cx="981.9" cy="1005.0" r="1.35"/>
<text x="161.8" y="1043.8" font-size="18.3" class="it dec">Decrease</text>
<circle cx="286.7" cy="1040.1" r="1.35"/><circle cx="294.5" cy="1040.1" r="1.35"/>
<circle cx="354.9" cy="1040.1" r="1.35"/><circle cx="362.7" cy="1040.1" r="1.35"/>
<text x="435.0" y="1040.7" text-anchor="end" class="n">12</text>
<text x="506.6" y="1040.5" text-anchor="end" class="n">5</text>
<circle cx="547.7" cy="1039.8" r="1.35"/><circle cx="555.5" cy="1039.8" r="1.35"/>
<text x="666.2" y="1040.3" text-anchor="end" class="n">75</text>
<circle cx="698.9" cy="1039.6" r="1.35"/><circle cx="706.7" cy="1039.6" r="1.35"/>
<text x="791.4" y="1040.1" text-anchor="end" class="n">8</text>
<circle cx="832.4" cy="1039.4" r="1.35"/><circle cx="840.2" cy="1039.4" r="1.35"/>
<text x="933.0" y="1039.9" text-anchor="end" class="n">53</text>
<text x="1012.6" y="1039.8" text-anchor="end" class="n">145</text>
<text x="94.2" y="1096.0" class="sc"><tspan font-size="16.5">C</tspan><tspan font-size="13.2">ANTERBURY</tspan>—</text>
<text x="111.3" y="1130.3" font-size="18.3" class="lab">Year 1884</text>
<circle cx="218.4" cy="1125.8" r="1.35"/><circle cx="226.2" cy="1125.8" r="1.35"/>
<circle cx="286.7" cy="1125.8" r="1.35"/><circle cx="294.5" cy="1125.8" r="1.35"/>
<circle cx="354.9" cy="1125.8" r="1.35"/><circle cx="362.7" cy="1125.8" r="1.35"/>
<circle cx="405.1" cy="1125.8" r="1.35"/><circle cx="412.9" cy="1125.8" r="1.35"/>
<circle cx="476.1" cy="1125.7" r="1.35"/><circle cx="483.9" cy="1125.7" r="1.35"/>
<circle cx="547.7" cy="1125.6" r="1.35"/><circle cx="555.5" cy="1125.6" r="1.35"/>
<circle cx="627.4" cy="1125.5" r="1.35"/><circle cx="635.2" cy="1125.5" r="1.35"/>
<circle cx="698.9" cy="1125.4" r="1.35"/><circle cx="706.7" cy="1125.4" r="1.35"/>
<circle cx="761.1" cy="1125.3" r="1.35"/><circle cx="768.9" cy="1125.3" r="1.35"/>
<text x="862.2" y="1125.8" text-anchor="end" class="n">19</text>
<text x="933.0" y="1125.7" text-anchor="end" class="n">2</text>
<text x="1012.6" y="1125.5" text-anchor="end" class="n">21</text>
<text x="111.3" y="1164.2" font-size="18.3" class="lab">Year 1885</text>
<circle cx="218.4" cy="1160.0" r="1.35"/><circle cx="226.2" cy="1160.0" r="1.35"/>
<circle cx="286.7" cy="1160.0" r="1.35"/><circle cx="294.5" cy="1160.0" r="1.35"/>
<circle cx="354.9" cy="1160.0" r="1.35"/><circle cx="362.7" cy="1160.0" r="1.35"/>
<circle cx="405.1" cy="1160.0" r="1.35"/><circle cx="412.9" cy="1160.0" r="1.35"/>
<circle cx="476.1" cy="1159.9" r="1.35"/><circle cx="483.9" cy="1159.9" r="1.35"/>
<circle cx="547.7" cy="1159.8" r="1.35"/><circle cx="555.5" cy="1159.8" r="1.35"/>
<circle cx="627.4" cy="1159.7" r="1.35"/><circle cx="635.2" cy="1159.7" r="1.35"/>
<circle cx="698.9" cy="1159.6" r="1.35"/><circle cx="706.7" cy="1159.6" r="1.35"/>
<circle cx="761.1" cy="1159.5" r="1.35"/><circle cx="768.9" cy="1159.5" r="1.35"/>
<circle cx="832.4" cy="1159.4" r="1.35"/><circle cx="840.2" cy="1159.4" r="1.35"/>
<circle cx="903.4" cy="1159.3" r="1.35"/><circle cx="911.2" cy="1159.3" r="1.35"/>
<circle cx="974.1" cy="1159.1" r="1.35"/><circle cx="981.9" cy="1159.1" r="1.35"/>
<text x="161.8" y="1198.2" font-size="18.3" class="it">Increase</text>
<circle cx="286.7" cy="1194.5" r="1.35"/><circle cx="294.5" cy="1194.5" r="1.35"/>
<circle cx="354.9" cy="1194.5" r="1.35"/><circle cx="362.7" cy="1194.5" r="1.35"/>
<circle cx="405.1" cy="1194.5" r="1.35"/><circle cx="412.9" cy="1194.5" r="1.35"/>
<circle cx="476.1" cy="1194.4" r="1.35"/><circle cx="483.9" cy="1194.4" r="1.35"/>
<circle cx="547.7" cy="1194.3" r="1.35"/><circle cx="555.5" cy="1194.3" r="1.35"/>
<circle cx="627.4" cy="1194.2" r="1.35"/><circle cx="635.2" cy="1194.2" r="1.35"/>
<circle cx="698.9" cy="1194.1" r="1.35"/><circle cx="706.7" cy="1194.1" r="1.35"/>
<circle cx="761.1" cy="1194.0" r="1.35"/><circle cx="768.9" cy="1194.0" r="1.35"/>
<circle cx="832.4" cy="1193.9" r="1.35"/><circle cx="840.2" cy="1193.9" r="1.35"/>
<circle cx="903.4" cy="1193.8" r="1.35"/><circle cx="911.2" cy="1193.8" r="1.35"/>
<circle cx="974.1" cy="1193.6" r="1.35"/><circle cx="981.9" cy="1193.6" r="1.35"/>
<text x="161.8" y="1232.5" font-size="18.3" class="it dec">Decrease</text>
<circle cx="286.7" cy="1228.7" r="1.35"/><circle cx="294.5" cy="1228.7" r="1.35"/>
<circle cx="354.9" cy="1228.7" r="1.35"/><circle cx="362.7" cy="1228.7" r="1.35"/>
<circle cx="405.1" cy="1228.7" r="1.35"/><circle cx="412.9" cy="1228.7" r="1.35"/>
<circle cx="476.1" cy="1228.6" r="1.35"/><circle cx="483.9" cy="1228.6" r="1.35"/>
<circle cx="547.7" cy="1228.5" r="1.35"/><circle cx="555.5" cy="1228.5" r="1.35"/>
<circle cx="627.4" cy="1228.4" r="1.35"/><circle cx="635.2" cy="1228.4" r="1.35"/>
<circle cx="698.9" cy="1228.3" r="1.35"/><circle cx="706.7" cy="1228.3" r="1.35"/>
<circle cx="761.1" cy="1228.2" r="1.35"/><circle cx="768.9" cy="1228.2" r="1.35"/>
<text x="862.2" y="1228.7" text-anchor="end" class="n">19</text>
<text x="933.0" y="1228.6" text-anchor="end" class="n">2</text>
<text x="1012.6" y="1228.4" text-anchor="end" class="n">21</text>
<text x="94.2" y="1284.7" class="sc"><tspan font-size="16.5">W</tspan><tspan font-size="13.2">ESTLAND</tspan>—</text>
<text x="111.3" y="1319.0" font-size="18.3" class="lab">Year 1884</text>
<circle cx="218.4" cy="1314.5" r="1.35"/><circle cx="226.2" cy="1314.5" r="1.35"/>
<circle cx="286.7" cy="1314.5" r="1.35"/><circle cx="294.5" cy="1314.5" r="1.35"/>
<circle cx="354.9" cy="1314.5" r="1.35"/><circle cx="362.7" cy="1314.5" r="1.35"/>
<text x="435.0" y="1315.1" text-anchor="end" class="n">2<tspan dx="2.1">,</tspan><tspan dx="2.1">393</tspan></text>
<text x="506.6" y="1314.9" text-anchor="end" class="n">239</text>
<text x="578.0" y="1314.8" text-anchor="end" class="n">130</text>
<text x="666.2" y="1314.7" text-anchor="end" class="n">561</text>
<text x="720.0" y="1314.6" text-anchor="end" class="n">107</text>
<text x="791.4" y="1314.5" text-anchor="end" class="n">74</text>
<text x="862.2" y="1314.4" text-anchor="end" class="n">38</text>
<text x="933.0" y="1314.3" text-anchor="end" class="n">7<tspan dx="2.1">,</tspan><tspan dx="2.1">036</tspan></text>
<text x="1012.6" y="1314.2" text-anchor="end" class="n">10<tspan dx="2.1">,</tspan><tspan dx="2.1">578</tspan></text>
<text x="111.3" y="1352.9" font-size="18.3" class="lab">Year 1885</text>
<circle cx="218.4" cy="1348.7" r="1.35"/><circle cx="226.2" cy="1348.7" r="1.35"/>
<circle cx="286.7" cy="1348.7" r="1.35"/><circle cx="294.5" cy="1348.7" r="1.35"/>
<circle cx="354.9" cy="1348.7" r="1.35"/><circle cx="362.7" cy="1348.7" r="1.35"/>
<text x="435.0" y="1349.2" text-anchor="end" class="n">2<tspan dx="2.1">,</tspan><tspan dx="2.1">002</tspan></text>
<text x="506.6" y="1349.1" text-anchor="end" class="n">162</text>
<text x="578.0" y="1349.0" text-anchor="end" class="n">105</text>
<text x="666.2" y="1348.9" text-anchor="end" class="n">510</text>
<text x="720.0" y="1348.8" text-anchor="end" class="n">78</text>
<text x="791.4" y="1348.7" text-anchor="end" class="n">72</text>
<text x="862.2" y="1348.6" text-anchor="end" class="n">132</text>
<text x="933.0" y="1348.5" text-anchor="end" class="n">9<tspan dx="2.1">,</tspan><tspan dx="2.1">366</tspan></text>
<text x="1012.6" y="1348.4" text-anchor="end" class="n">12<tspan dx="2.1">,</tspan><tspan dx="2.1">427</tspan></text>
<text x="161.8" y="1386.9" font-size="18.3" class="it">Increase</text>
<circle cx="286.7" cy="1383.2" r="1.35"/><circle cx="294.5" cy="1383.2" r="1.35"/>
<circle cx="354.9" cy="1383.2" r="1.35"/><circle cx="362.7" cy="1383.2" r="1.35"/>
<circle cx="405.1" cy="1383.2" r="1.35"/><circle cx="412.9" cy="1383.2" r="1.35"/>
<circle cx="476.1" cy="1383.0" r="1.35"/><circle cx="483.9" cy="1383.0" r="1.35"/>
<circle cx="547.7" cy="1382.9" r="1.35"/><circle cx="555.5" cy="1382.9" r="1.35"/>
<circle cx="627.4" cy="1382.8" r="1.35"/><circle cx="635.2" cy="1382.8" r="1.35"/>
<circle cx="698.9" cy="1382.7" r="1.35"/><circle cx="706.7" cy="1382.7" r="1.35"/>
<circle cx="761.1" cy="1382.6" r="1.35"/><circle cx="768.9" cy="1382.6" r="1.35"/>
<text x="862.2" y="1383.1" text-anchor="end" class="n">94</text>
<text x="933.0" y="1383.0" text-anchor="end" class="n">2<tspan dx="2.1">,</tspan><tspan dx="2.1">330</tspan></text>
<text x="1012.6" y="1382.9" text-anchor="end" class="n">1<tspan dx="2.1">,</tspan><tspan dx="2.1">849</tspan></text>
<text x="161.8" y="1421.2" font-size="18.3" class="it dec">Decrease</text>
<circle cx="286.7" cy="1417.4" r="1.35"/><circle cx="294.5" cy="1417.4" r="1.35"/>
<circle cx="354.9" cy="1417.4" r="1.35"/><circle cx="362.7" cy="1417.4" r="1.35"/>
<text x="435.0" y="1418.0" text-anchor="end" class="n">391</text>
<text x="506.6" y="1417.8" text-anchor="end" class="n">77</text>
<text x="578.0" y="1417.7" text-anchor="end" class="n">25</text>
<text x="666.2" y="1417.6" text-anchor="end" class="n">51</text>
<text x="720.0" y="1417.5" text-anchor="end" class="n">29</text>
<text x="791.4" y="1417.4" text-anchor="end" class="n">2</text>
<circle cx="832.4" cy="1416.7" r="1.35"/><circle cx="840.2" cy="1416.7" r="1.35"/>
<circle cx="903.4" cy="1416.6" r="1.35"/><circle cx="911.2" cy="1416.6" r="1.35"/>
<circle cx="974.1" cy="1416.5" r="1.35"/><circle cx="981.9" cy="1416.5" r="1.35"/>
<text x="94.2" y="1473.3" class="sc"><tspan font-size="16.5">O</tspan><tspan font-size="13.2">TAGO</tspan>—</text>
<text x="111.3" y="1507.6" font-size="18.3" class="lab">Year 1884</text>
<circle cx="218.4" cy="1503.1" r="1.35"/><circle cx="226.2" cy="1503.1" r="1.35"/>
<circle cx="286.7" cy="1503.1" r="1.35"/><circle cx="294.5" cy="1503.1" r="1.35"/>
<circle cx="354.9" cy="1503.1" r="1.35"/><circle cx="362.7" cy="1503.1" r="1.35"/>
<text x="435.0" y="1503.7" text-anchor="end" class="n">2<tspan dx="2.1">,</tspan><tspan dx="2.1">897</tspan></text>
<text x="506.6" y="1503.6" text-anchor="end" class="n">180</text>
<text x="578.0" y="1503.5" text-anchor="end" class="n">161</text>
<text x="666.2" y="1503.4" text-anchor="end" class="n">1<tspan dx="2.1">,</tspan><tspan dx="2.1">365</tspan></text>
<text x="720.0" y="1503.3" text-anchor="end" class="n">86</text>
<text x="791.4" y="1503.2" text-anchor="end" class="n">105</text>
<text x="862.2" y="1503.1" text-anchor="end" class="n">13</text>
<text x="933.0" y="1503.0" text-anchor="end" class="n">7<tspan dx="2.1">,</tspan><tspan dx="2.1">880</tspan></text>
<text x="1012.6" y="1502.8" text-anchor="end" class="n">12<tspan dx="2.1">,</tspan><tspan dx="2.1">687</tspan></text>
<text x="111.3" y="1541.5" font-size="18.3" class="lab">Year 1885</text>
<circle cx="218.4" cy="1537.3" r="1.35"/><circle cx="226.2" cy="1537.3" r="1.35"/>
<circle cx="286.7" cy="1537.3" r="1.35"/><circle cx="294.5" cy="1537.3" r="1.35"/>
<circle cx="354.9" cy="1537.3" r="1.35"/><circle cx="362.7" cy="1537.3" r="1.35"/>
<text x="435.0" y="1537.9" text-anchor="end" class="n">2<tspan dx="2.1">,</tspan><tspan dx="2.1">792</tspan></text>
<text x="506.6" y="1537.8" text-anchor="end" class="n">178</text>
<text x="578.0" y="1537.7" text-anchor="end" class="n">147</text>
<text x="666.2" y="1537.6" text-anchor="end" class="n">1<tspan dx="2.1">,</tspan><tspan dx="2.1">717</tspan></text>
<text x="720.0" y="1537.5" text-anchor="end" class="n">72</text>
<text x="791.4" y="1537.4" text-anchor="end" class="n">243</text>
<text x="862.2" y="1537.3" text-anchor="end" class="n">873</text>
<text x="933.0" y="1537.2" text-anchor="end" class="n">7<tspan dx="2.1">,</tspan><tspan dx="2.1">136</tspan></text>
<text x="1012.6" y="1537.0" text-anchor="end" class="n">13<tspan dx="2.1">,</tspan><tspan dx="2.1">158</tspan></text>
<text x="161.8" y="1575.5" font-size="18.3" class="it">Increase</text>
<circle cx="286.7" cy="1571.8" r="1.35"/><circle cx="294.5" cy="1571.8" r="1.35"/>
<circle cx="354.9" cy="1571.8" r="1.35"/><circle cx="362.7" cy="1571.8" r="1.35"/>
<circle cx="405.1" cy="1571.8" r="1.35"/><circle cx="412.9" cy="1571.8" r="1.35"/>
<circle cx="476.1" cy="1571.7" r="1.35"/><circle cx="483.9" cy="1571.7" r="1.35"/>
<circle cx="547.7" cy="1571.6" r="1.35"/><circle cx="555.5" cy="1571.6" r="1.35"/>
<text x="666.2" y="1572.1" text-anchor="end" class="n">352</text>
<circle cx="698.9" cy="1571.4" r="1.35"/><circle cx="706.7" cy="1571.4" r="1.35"/>
<text x="791.4" y="1571.9" text-anchor="end" class="n">138</text>
<text x="862.2" y="1571.8" text-anchor="end" class="n">860</text>
<circle cx="903.4" cy="1571.1" r="1.35"/><circle cx="911.2" cy="1571.1" r="1.35"/>
<text x="1001.5" y="1571.5" text-anchor="end" class="n">471</text>
<text x="161.8" y="1609.8" font-size="18.3" class="it dec">Decrease</text>
<circle cx="286.7" cy="1606.0" r="1.35"/><circle cx="294.5" cy="1606.0" r="1.35"/>
<circle cx="354.9" cy="1606.0" r="1.35"/><circle cx="362.7" cy="1606.0" r="1.35"/>
<text x="435.0" y="1606.6" text-anchor="end" class="n">105</text>
<text x="506.6" y="1606.5" text-anchor="end" class="n">2</text>
<text x="578.0" y="1606.4" text-anchor="end" class="n">14</text>
<circle cx="627.4" cy="1605.7" r="1.35"/><circle cx="635.2" cy="1605.7" r="1.35"/>
<text x="720.0" y="1606.2" text-anchor="end" class="n">14</text>
<circle cx="761.1" cy="1605.5" r="1.35"/><circle cx="768.9" cy="1605.5" r="1.35"/>
<circle cx="832.4" cy="1605.4" r="1.35"/><circle cx="840.2" cy="1605.4" r="1.35"/>
<text x="933.0" y="1605.9" text-anchor="end" class="n">744</text>
<circle cx="974.1" cy="1605.1" r="1.35"/><circle cx="981.9" cy="1605.1" r="1.35"/>
<text x="543.3" y="74.6" font-size="28" textLength="24.3" lengthAdjust="spacingAndGlyphs" class="pg">39</text>
<text y="73.6" class="pg" font-size="28.5"><tspan x="927.5" style="letter-spacing:-1px">C.</tspan><tspan x="953.2" dy="-1.2" font-size="23.5">—</tspan><tspan x="979.3" dy="1.2">4</tspan><tspan x="993.2" font-size="19.5">A</tspan><tspan x="1005.2">.</tspan></text>
<text x="554.6" y="121.3" text-anchor="middle" font-size="20.5" class="b">No. 3.</text>
<text x="137.5" y="1709.6" font-size="21" class="ft">Mines Department, Wellington, 30th June, 1886.</text>
<text x="771" y="1683.8" class="ft" font-size="21" style="letter-spacing:1.0px;word-spacing:4px">T. H. H<tspan font-size="16">AMER</tspan>,</text>
<text x="858.5" y="1706.2" font-size="21" class="ft" style="letter-spacing:0.9px">Accountant.</text>
</g>
</svg>
</body></html>
